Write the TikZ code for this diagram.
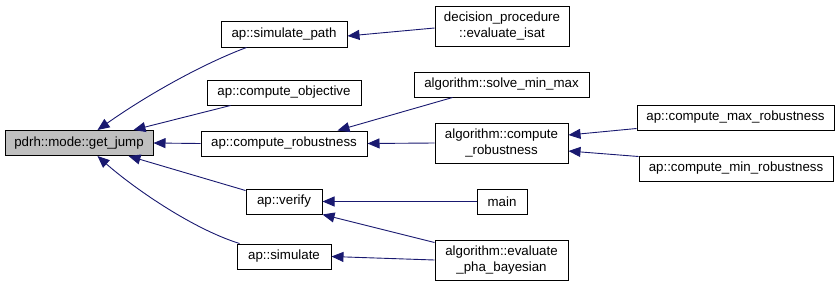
\documentclass[tikz,border=0pt]{standalone}
\usepackage{fontspec}
\setmainfont{Liberation Sans}
\usetikzlibrary{arrows.meta}
\definecolor{edgeblue}{HTML}{191970}
\definecolor{curfill}{HTML}{BFBFBF}
\begin{document}
\begin{tikzpicture}[x=1pt,y=-1pt,
  fn/.style={draw=black, line width=1pt, fill=white, inner sep=0pt,
    align=center, font=\fontsize{13.3}{16}\selectfont},
  cur/.style={fn, fill=curfill},
  edge/.style={draw=edgeblue, line width=0.9pt,
    {Triangle[length=12pt,width=10pt]}-}]
\useasboundingbox (0,0) rectangle (840,287);

% functions
\node[cur, minimum width=148, minimum height=25] (getjump) at (79,143) {pdrh::mode::get\_jump};
\node[fn, minimum width=126, minimum height=26] (simpath) at (284,34) {ap::simulate\_path};
\node[fn, minimum width=154, minimum height=25] (compobj) at (284,92.5) {ap::compute\_objective};
\node[fn, minimum width=166, minimum height=25] (comprob) at (284,143.5) {ap::compute\_robustness};
\node[fn, minimum width=76, minimum height=25] (verify) at (284,201.5) {ap::verify};
\node[fn, minimum width=94, minimum height=25] (simulate) at (284,256.5) {ap::simulate};

\node[fn, minimum width=134, minimum height=40] (decproc) at (502,26) {decision\_procedure\\::evaluate\_isat};
\node[fn, minimum width=175, minimum height=25] (solvemm) at (501.5,84.5) {algorithm::solve\_min\_max};
\node[fn, minimum width=133, minimum height=40] (algcr) at (501.5,143) {algorithm::compute\\\_robustness};
\node[fn, minimum width=50, minimum height=25] (main) at (502,201.5) {main};
\node[fn, minimum width=133, minimum height=40] (evalpha) at (501.5,260) {algorithm::evaluate\\\_pha\_bayesian};

\node[fn, minimum width=197, minimum height=25] (cmaxr) at (735.5,117.5) {ap::compute\_max\_robustness};
\node[fn, minimum width=194, minimum height=25] (cminr) at (736,168.5) {ap::compute\_min\_robustness};

% calls into get_jump
\draw[edge] ([xshift=93pt]getjump.north west) .. controls (150,93) and (205,63) .. ([xshift=26pt]simpath.south west);
\draw[edge] ([xshift=-20pt]getjump.north east) -- ([xshift=24pt]compobj.south west);
\draw[edge] (getjump.east) -- (comprob.west);
\draw[edge] ([xshift=-25pt]getjump.south east) -- ([yshift=-2pt]verify.north west);
\draw[edge] ([xshift=93pt]getjump.south west) .. controls (130,185) and (190,228) .. ([xshift=3pt]simulate.north west);

% second level
\draw[edge] ([yshift=-2pt]simpath.east) -- ([yshift=-2pt]decproc.west);
\draw[edge] ([xshift=-30pt]comprob.north east) -- ([xshift=39pt]solvemm.south west);
\draw[edge] (comprob.east) -- (algcr.west);
\draw[edge] (verify.east) -- (main.west);
\draw[edge] (verify.south east) -- ([yshift=-3pt]evalpha.north west);
\draw[edge] (simulate.east) -- (evalpha.west);

% third level
\draw[edge] ([yshift=8pt]algcr.east) -- ([yshift=2pt]cmaxr.south west);
\draw[edge] ([yshift=-8pt]algcr.east) -- ([yshift=-1pt]cminr.north west);
\end{tikzpicture}
\end{document}
